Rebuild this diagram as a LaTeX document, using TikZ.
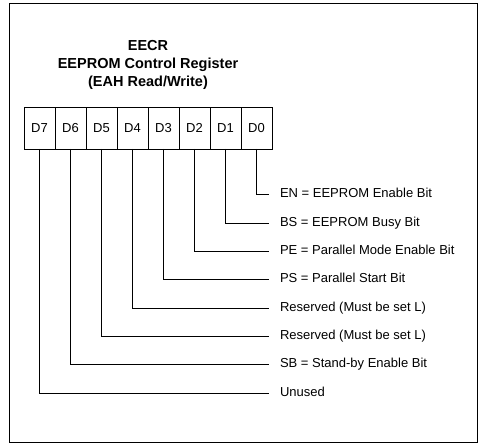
\documentclass[tikz,border=0pt]{standalone}
\usepackage{fontspec}
\setmainfont{Liberation Sans}
\usetikzlibrary{positioning}

\begin{document}
\begin{tikzpicture}[x=1pt,y=-1pt,
  cadre/.style={line width=0.8pt},
  titre/.style={align=center,font=\bfseries\fontsize{14.5}{18}\selectfont},
  bitbox/.style={draw,line width=0.9pt,minimum width=31pt,minimum height=42pt,
    inner sep=0pt,outer sep=0pt,font=\fontsize{13}{15}\selectfont},
  bitlabel/.style={anchor=west,inner xsep=11pt,inner ysep=0pt,outer sep=0pt,
    text height=0.72em,text depth=0pt,font=\fontsize{13}{15}\selectfont},
  lien/.style={line width=1pt}]

\useasboundingbox (0,0) rectangle (480,444);

% Cadre
\draw[cadre] (9,3) rectangle (477,442);

% Titre
\node[titre] (titre) at (148,65) {EECR\\EEPROM Control Register\\(EAH Read/Write)};

% Registre
\node[bitbox] (d7) at (39.5,128) {D7};
\node[bitbox, right=0pt of d7] (d6) {D6};
\node[bitbox, right=0pt of d6] (d5) {D5};
\node[bitbox, right=0pt of d5] (d4) {D4};
\node[bitbox, right=0pt of d4] (d3) {D3};
\node[bitbox, right=0pt of d3] (d2) {D2};
\node[bitbox, right=0pt of d2] (d1) {D1};
\node[bitbox, right=0pt of d1] (d0) {D0};

% Descriptions
\node[bitlabel] (en) at (269,194) {EN = EEPROM Enable Bit};
\node[bitlabel] (bs) at (269,223) {BS = EEPROM Busy Bit};
\node[bitlabel] (pe) at (269,251) {PE = Parallel Mode Enable Bit};
\node[bitlabel] (ps) at (269,279) {PS = Parallel Start Bit};
\node[bitlabel] (resa) at (269,308) {Reserved (Must be set L)};
\node[bitlabel] (resb) at (269,336) {Reserved (Must be set L)};
\node[bitlabel] (sb) at (269,364) {SB = Stand-by Enable Bit};
\node[bitlabel] (unused) at (269,393) {Unused};

% Liens
\draw[lien] (d0.south) |- (en.west);
\draw[lien] (d1.south) |- (bs.west);
\draw[lien] (d2.south) |- (pe.west);
\draw[lien] (d3.south) |- (ps.west);
\draw[lien] (d4.south) |- (resa.west);
\draw[lien] (d5.south) |- (resb.west);
\draw[lien] (d6.south) |- (sb.west);
\draw[lien] (d7.south) |- (unused.west);

\end{tikzpicture}
\end{document}
